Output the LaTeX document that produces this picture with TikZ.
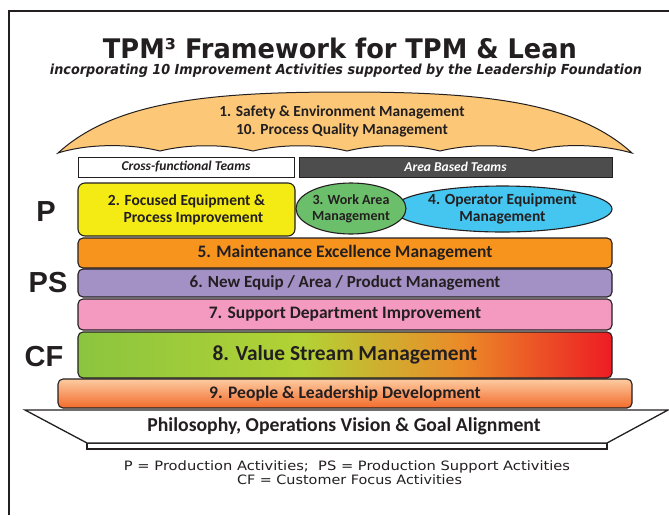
\documentclass[tikz,border=0pt]{standalone}
\usepackage{fontspec}
\usepackage{graphicx}
\setmainfont{Liberation Sans}
\newfontfamily\bx{Carlito}
\newfontfamily\dv{DejaVu Sans}
\usetikzlibrary{shapes.geometric}
\definecolor{ink}{HTML}{231F20}
\definecolor{archc}{HTML}{FCC878}
\definecolor{yel}{HTML}{F5EB14}
\definecolor{grn}{HTML}{6CBF6A}
\definecolor{cyn}{HTML}{45C6F0}
\definecolor{org}{HTML}{F7941E}
\definecolor{pur}{HTML}{A390C5}
\definecolor{pnk}{HTML}{F49AC1}
\definecolor{drk}{HTML}{4D4D4D}
\definecolor{g1}{HTML}{8BC53F}
\definecolor{g2}{HTML}{B3D235}
\definecolor{g3}{HTML}{EB8A28}
\definecolor{g4}{HTML}{ED1C24}
\definecolor{p9t}{HTML}{FDCBA0}
\definecolor{p9b}{HTML}{F26B2B}
\pgfdeclarehorizontalshading{vsm}{100bp}{color(0bp)=(g1); color(25bp)=(g1); color(46bp)=(g2); color(61bp)=(g3); color(75bp)=(g4); color(100bp)=(g4)}
\tikzset{
  bar/.style={draw=ink, line width=1.1pt, rounded corners=5pt, inner sep=0pt, text=ink,
    font=\bx\bfseries\fontsize{17.5}{19}\selectfont},
  oval/.style={draw=ink, line width=1.1pt, ellipse, inner sep=0pt, text=ink, align=center,
    font=\bx\bfseries\fontsize{14}{16}\selectfont},
  teambox/.style={draw=ink, line width=0.9pt, inner sep=0pt,
    font=\bx\bfseries\itshape\fontsize{13.5}{15}\selectfont},
  side/.style={text=ink, font=\bfseries\fontsize{29}{30}\selectfont, inner sep=0pt},
  plain/.style={text=ink, inner sep=0pt, anchor=base}
}
\begin{document}
\begin{tikzpicture}[x=1pt,y=-1pt]
\useasboundingbox (0,0) rectangle (669,515);
\fill[white] (0,0) rectangle (669,515);
\draw[ink, line width=2pt] (9,515) -- (9,11) -- (669,11);

\node[plain] (title) at (340,58) {\resizebox{474pt}{20.5pt}{\dv\bfseries TPM³ Framework for TPM \& Lean}};
\node[plain] (sub) at (346,74.5) {\resizebox{592pt}{10.5pt}{\dv\bfseries\itshape incorporating 10 Improvement Activities supported by the Leadership Foundation}};

% arch
\filldraw[fill=archc, draw=ink, line width=1pt]
  (58,153) .. controls (115,101) and (210,92) .. (345,92)
  .. controls (480,92) and (575,101) .. (632,153)
  .. controls (600,144) and (560,143) .. (533,151)
  .. controls (505,144) and (468,144) .. (440,151)
  .. controls (412,144) and (375,144) .. (347,151)
  .. controls (319,144) and (281,144) .. (253,151)
  .. controls (225,144) and (188,144) .. (160,151)
  .. controls (132,144) and (90,143) .. (58,153) -- cycle;
\node[text=ink, align=center, font=\bx\bfseries\fontsize{15.4}{18}\selectfont, inner sep=0pt] (arch) at (342,121) {1. Safety \& Environment Management\\10. Process Quality Management};

% teams
\node[teambox, fill=white, text=ink, minimum width=216pt, minimum height=20pt] (cft) at (186,167) {Cross-functional Teams};
\node[teambox, fill=drk, text=white, minimum width=313pt, minimum height=20pt] (abt) at (455.5,167) {Area Based Teams};

% row P
\node[bar, fill=yel, align=center, minimum width=217pt, minimum height=53pt, rounded corners=7pt, font=\bx\bfseries\fontsize{15.5}{17}\selectfont] (b2) at (186.5,209.5) {2. Focused Equipment \&\\\hspace*{14pt}Process Improvement};
\node[oval, fill=cyn, minimum width=219pt, minimum height=46pt, font=\bx\bfseries\fontsize{15.5}{17}\selectfont] (b4) at (502.5,209) {4. Operator Equipment\\Management};
\node[oval, fill=grn, minimum width=102pt, minimum height=51pt] (b3) at (351,208.5) {3. Work Area\\Management};

\node[bar, fill=org, minimum width=534pt, minimum height=30pt] (b5) at (345,253) {5. Maintenance Excellence Management};
\node[bar, fill=pur, minimum width=534pt, minimum height=28pt, font=\bx\bfseries\fontsize{17}{19}\selectfont] (b6) at (345,283) {6. New Equip / Area / Product Management};
\node[bar, fill=pnk, minimum width=534pt, minimum height=31pt] (b7) at (345,314.5) {7. Support Department Improvement};
\node[bar, shade, shading=vsm, minimum width=534pt, minimum height=46pt, font=\bx\bfseries\fontsize{21.4}{23}\selectfont] (b8) at (345,355) {8. Value Stream Management};
\node[bar, top color=p9t, bottom color=p9b, minimum width=574pt, minimum height=29pt, font=\bx\bfseries\fontsize{17.6}{19}\selectfont] (b9) at (345,393.5) {9. People \& Leadership Development};

% foundation
\filldraw[fill=white, draw=ink, line width=1.2pt] (87,443) rectangle (607,449);
\filldraw[fill=white, draw=ink, line width=1.3pt] (25,410) -- (668,410) -- (607,443) -- (87,443) -- cycle;
\node[text=ink, font=\bx\bfseries\fontsize{19.7}{21}\selectfont, inner sep=0pt] (phil) at (344,426) {Philosophy, Operations Vision \& Goal Alignment};

% side labels
\node[side] (P) at (46,212) {P};
\node[side] (PS) at (48,283) {PS};
\node[side] (CF) at (44,357) {CF};

% footer
\node[plain] (foot1) at (347,470) {\resizebox{446pt}{9.8pt}{\dv P = Production Activities;\ \ PS = Production Support Activities}};
\node[plain] (foot2) at (349.5,484) {\resizebox{225pt}{9.8pt}{\dv CF = Customer Focus Activities}};
\end{tikzpicture}
\end{document}
